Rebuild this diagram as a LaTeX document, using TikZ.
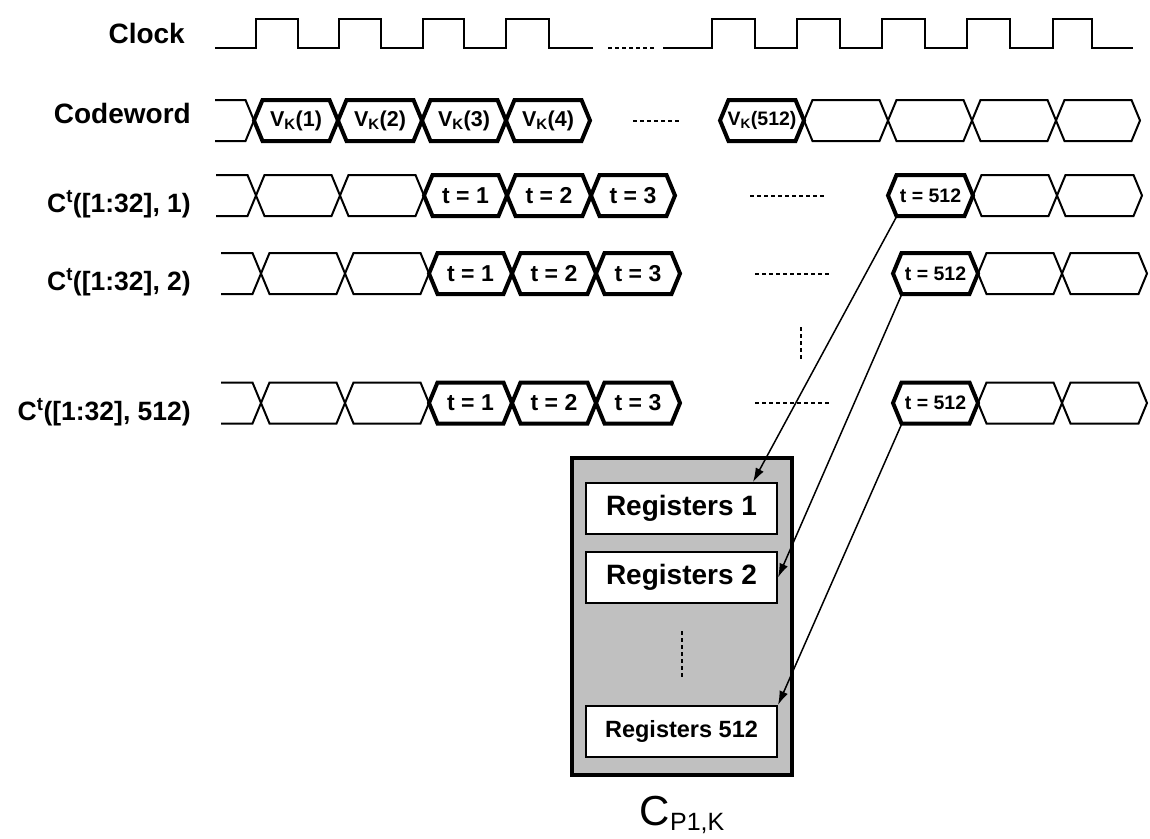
\documentclass[tikz,border=0pt]{standalone}
\usepackage{fontspec}
\setmainfont{Liberation Sans}
\usetikzlibrary{arrows.meta,positioning}

\definecolor{boxgray}{RGB}{192,192,192}

\tikzset{
  wave/.style={line width=2pt},
  busthick/.style={line width=4pt},
  dots/.style={line width=2pt, dash pattern=on 4pt off 3pt},
  lbl/.style={anchor=base east, inner sep=0pt, font=\fontsize{26.5}{32}\selectfont\bfseries},
  celltxt/.style={inner sep=0pt, minimum width=67pt, minimum height=41pt, font=\fontsize{21.5}{25}\selectfont\bfseries},
  regbox/.style={draw, fill=white, line width=2pt, minimum width=191pt, minimum height=51pt, inner sep=0pt, font=\fontsize{28}{33}\selectfont\bfseries},
  link/.style={line width=1.5pt, -{Latex[length=14pt,width=9pt]}}
}

% one bus value between two crossings: left x, right x, centre y
\newcommand{\buscell}[4][wave]{%
  \draw[#1] (#2,#4) -- ({#2+8.5},{#4-20.5}) -- ({#3-8.5},{#4-20.5}) -- (#3,#4)
    -- ({#3-8.5},{#4+20.5}) -- ({#2+8.5},{#4+20.5}) -- cycle;}
% open start of a bus: start x, first crossing x, centre y
\newcommand{\busstart}[3]{%
  \draw[wave] (#1,{#3-20.5}) -- ({#2-8.5},{#3-20.5}) -- (#2,#3)
    -- ({#2-8.5},{#3+20.5}) -- (#1,{#3+20.5});}

\begin{document}
\begin{tikzpicture}[x=1pt,y=-1pt]
	\useasboundingbox (0,0) rectangle (1150,838);

	% row labels
	\node[lbl, font=\fontsize{28}{33}\selectfont\bfseries] (lclock) at (185,43) {Clock};
	\node[lbl, font=\fontsize{28}{33}\selectfont\bfseries] (lcode) at (191,123) {Codeword};
	\node[lbl] (lrow1) at (191,212) {C\textsuperscript{t}([1:32], 1)};
	\node[lbl] (lrow2) at (191,290) {C\textsuperscript{t}([1:32], 2)};
	\node[lbl] (lrow512) at (191,420) {C\textsuperscript{t}([1:32], 512)};

	% clock
	\draw[wave] (215,48) \foreach \r/\f in {256/298,339/381,423/464,506/549}{ -- (\r,48) -- (\r,19) -- (\f,19) -- (\f,48)} -- (593,48);
	\draw[wave] (663,48) \foreach \r/\f in {712/755,797/840,882/925,967/1010,1053/1092}{ -- (\r,48) -- (\r,19) -- (\f,19) -- (\f,48)} -- (1133,48);
	\draw[dots] (608,48) -- (655,48);

	% codeword
	\busstart{215}{254}{120.5}
	\foreach \a/\b/\n in {254/338/1,338/422/2,422/506/3,506/590/4} {
		\buscell[busthick]{\a}{\b}{120.5}
		\node[celltxt] (v\n) at ({(\a+\b)/2},120.5) {V\textsubscript{K}(\n)};
	}
	\draw[dots] (633,120.5) -- (680,120.5);
	\foreach \a/\b in {804/888,888/972,972/1056,1056/1140}
		\buscell{\a}{\b}{120.5};
	\buscell[busthick]{720}{804}{120.5}
	\node[celltxt, font=\fontsize{19.5}{23}\selectfont\bfseries] (v512) at (762,120.5) {V\textsubscript{K}(512)};

	% codeword columns
	\foreach \y/\s/\rn in {195.5/0/1,273.5/5/2,403/5/512} {
		\begin{scope}[xshift=\s]
			\busstart{216}{256}{\y}
			\buscell{256}{340}{\y}
			\buscell{340}{424}{\y}
			\buscell{973}{1057}{\y}
			\buscell{1057}{1142}{\y}
			\foreach \a/\b/\k in {424/507/1,507/591/2,591/675/3} {
				\buscell[busthick]{\a}{\b}{\y}
				\node[celltxt, font=\fontsize{23}{27}\selectfont\bfseries] (r\rn t\k) at ({(\a+\b)/2},\y) {t = \k};
			}
			\buscell[busthick]{888}{973}{\y}
			\node[celltxt, font=\fontsize{19.5}{23}\selectfont\bfseries] (r\rn t512) at (930.5,\y) {t = 512};
			\draw[dots] (750,\y) -- (825,\y);
		\end{scope}
	}
	\draw[dots] (801,327) -- (801,360);

	% register block
	\node[draw, fill=boxgray, line width=3.5pt, minimum width=220pt, minimum height=317pt, inner sep=0pt] (cbox) at (682,616.5) {};
	\node[regbox] (reg1) at (681.5,508.5) {Registers 1};
	\node[regbox] (reg2) at (681.5,577.5) {Registers 2};
	\node[regbox, font=\fontsize{23.5}{28}\selectfont\bfseries] (reg512) at (681.5,731.5) {Registers 512};
	\draw[dots] ([yshift=-27pt]reg2.south) -- ([yshift=28pt]reg512.north);
	\node[below=19pt of cbox, inner sep=0pt, font=\fontsize{42}{50}\selectfont] (cname) {C\raisebox{-5pt}{\fontsize{25}{30}\selectfont P1,K}};

	% last values into the registers
	\draw[link] (r1t512.south west) -- ([xshift=-25pt]reg1.north east);
	\draw[link] (r2t512.south west) -- (reg2.east);
	\draw[link] (r512t512.south west) -- (reg512.north east);
\end{tikzpicture}
\end{document}
